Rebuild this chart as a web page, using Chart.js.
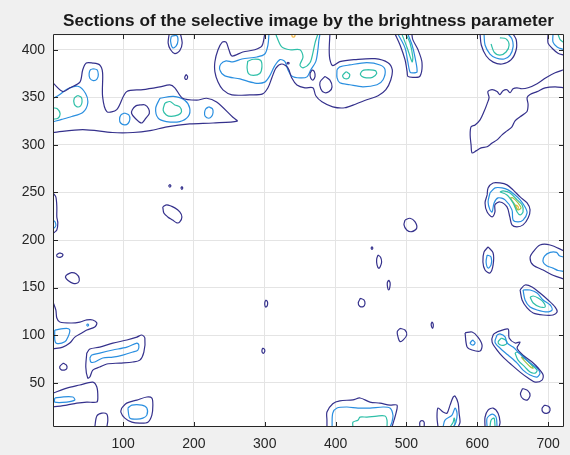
<!DOCTYPE html>
<html>
<head>
<meta charset="utf-8">
<script src="https://cdn.jsdelivr.net/npm/chart.js@4/dist/chart.umd.min.js"></script>
<style>
  html, body { margin: 0; padding: 0; background: #f0f0f0; }
  canvas { display: block; }
</style>
</head>
<body>
<canvas id="chart" width="570" height="455"></canvas>
<script>
// Axis ticks and limits
const xTicks = [100, 200, 300, 400, 500, 600, 700];
const yTicks = [50, 100, 150, 200, 250, 300, 350, 400];
const xLimits = [1, 722.5];
const yLimits = [3.5, 416.5];

// Contour line colours, lowest level first
const levelColors = ['#35318c', '#2a8fe0', '#2ebfa8', '#9ec54a', '#f4b43a'];

// Level 1 contour paths, [x, y] pairs
const level1 = [
  [[1,365],[15,356],[25,360],[39,366],[43,379],[48,386],[57,386],[67,384],[71,376],[71,351],[77,335],[91,337],[105,356],[128,358],[152,361],[166,363],[173,360],[184,349],[204,347],[218,349],[232,345],[255,329],[261,325],[227,323],[194,322],[162,319],[138,315],[114,313],[85,313],[43,316],[1,313]],
  [[124,342],[118,341],[113,337],[112,333],[117,328],[126,323],[132,328],[137,333],[136,338],[131,342],[124,342]],
  [[189,374],[191,372],[190,369],[188,369],[187,371],[189,374]],
  [[165,416.5],[163.6,407],[167,400],[173,396],[180,399],[183.4,407],[181,416.5]],
  [[300,416.5],[296,404],[286,400],[269,397.6],[253.6,393.4],[249.4,400],[245.4,408],[240,408],[234,400],[229.6,387.4],[229.6,376.8],[234,366],[241,357.8],[253.6,352.6],[279,352.6],[297,353.6],[304.5,360],[310,370.5],[316,381],[324,385],[332.7,381],[338,370.5],[345.4,363],[356.7,360],[368,360],[372,351.6],[380.7,345.3],[396,340],[413,339],[428.8,343],[444,347.4],[460,351.6],[471,358],[478,368.5],[480,379],[474,386.4],[455.6,390.6],[427,389.6],[406,387.5],[396,383.3],[392,389.6],[391,400],[392,416.5]],
  [[367,379],[370,377],[371,372],[368,368],[365,370],[364,375],[367,379]],
  [[385,372],[392,368],[395,361],[391,356],[384,355],[379,359],[378,366],[385,372]],
  [[333,387],[334.5,386],[333,385],[331.5,386],[333,387]],
  [[484,416.5],[491,405],[498,389.6],[501,377],[502,372],[509,371],[519,372],[522,386.3],[516.4,400],[509,410.6],[507.7,416.5]],
  [[604,416.5],[605.7,405],[612.7,393.4],[622.6,387],[635,385],[648,389.6],[655,400],[655,410.6],[650.6,416.5]],
  [[700,416.5],[700,407],[705.7,401.6],[714,396.4],[722.5,394.3]],
  [[722.5,379],[710,375.8],[697,370.6],[684.5,364.3],[671.8,360],[663,359],[656,360],[650.6,359],[646.4,354.8],[642,358],[636.5,357],[632,352.9],[628,356],[621,358],[615,356],[616.7,349.7],[614,343.4],[609.6,335],[604,326.3],[597,321],[591.3,319],[590,310.5],[591.3,300],[592.7,291.6],[598.3,293.7],[605.4,296.9],[614,298],[621,302],[628,305.3],[635,310.5],[642,314.7],[649,319],[653.4,325.3],[660.5,329.6],[670,334.8],[671.8,342.2],[670.4,349.7],[674.5,352.9],[684.5,356],[695.8,360],[710,361],[722.5,360]],
  [[614,247.4],[611,239],[614,229.5],[621,224.3],[625,229.5],[625,237],[632,240],[642,234.8],[646,224.3],[649,215.9],[656,213.8],[664.7,215.9],[671.8,223.2],[674.6,231.7],[670.4,239],[660.5,245.3],[650.6,252.7],[642,258],[632,260],[622.4,260],[615.3,254.8],[614,247.4]],
  [[615.3,192.7],[609.6,187.5],[608,177],[611,168.5],[618,165.4],[622.4,173.8],[622.4,186.4],[615.3,192.7]],
  [[722.5,188.6],[702.8,194.8],[688.6,194.8],[678.8,187.5],[674.6,181.2],[678.8,173.8],[693,168.5],[707,163],[722.5,159]],
  [[660.5,147.5],[663.3,137],[670.4,128.6],[679,123.3],[693,121.2],[707,121.2],[712.8,124.4],[710,129.6],[700,137],[688.6,144.3],[677.4,150.6],[667.5,152.7],[660.5,147.5]],
  [[628,103.4],[643.5,106.5],[645,97],[653.4,91.8],[660.5,92.8],[656.3,86.5],[664.7,79.1],[677.4,71.8],[686,65.5],[693,58.1],[691.5,52.8],[681.7,50.7],[671.8,54.9],[660.5,61.2],[649,68.5],[636.5,77],[628,84.4],[621,92.8],[622.4,100.2],[628,103.4]],
  [[582.8,102.4],[585.6,87.7],[592.7,84.4],[604,83.3],[606.8,89.6],[601,98],[592.7,103.3],[582.8,102.4]],
  [[664,44],[671,42],[674.6,37],[671,32],[665,33],[661,38],[664,44]],
  [[695,26.5],[701,25],[702.8,21],[699,18],[693,19],[691.5,23],[695,26.5]],
  [[387.8,3.5],[387.8,10.7],[387.8,19.2],[396,28],[406,31],[424.5,32],[434.5,34],[448.6,29.7],[462.7,28.6],[476.8,26.5],[486.7,26.5],[485.3,18],[482.5,10.7],[479.6,3.5]],
  [[519,3.5],[519,8.6],[522,10.2],[525,8.6],[525,3.5]],
  [[544.6,3.5],[543.2,13.9],[544.6,23.4],[551.7,19.2],[557.3,18],[561.6,26.5],[566,34.9],[568.7,36],[573,28.6],[574.4,18],[575.7,8.6],[573,3.5]],
  [[611,3.5],[611,13.9],[615.3,21.3],[622.4,23.4],[629.4,18],[632.2,8.6],[630.8,3.5]],
  [[60,3.5],[62.9,15],[70,18],[77,17],[78.4,10.7],[77,3.5]],
  [[98,23.4],[105,28.6],[119.4,31.8],[133.5,35],[140.6,33.9],[142,26.5],[140.6,16],[135,8.6],[123.6,7.6],[112.3,8.6],[102.4,12.8],[96.8,19.2],[98,23.4]],
  [[1,39],[20.5,44.4],[38.9,47.6],[57.2,50.7],[62.9,45.5],[64.3,35],[62.9,29.7],[48.7,29.7],[34.6,28.6],[20.5,26.5],[1,24.5]],
  [[15.5,70.7],[20,68.5],[20.5,65],[17,63.3],[12,64],[10.6,67],[15.5,70.7]],
  [[48.7,81.2],[53,85.4],[67,87.5],[85.5,91.7],[105.3,94.9],[119.4,98],[126.4,100.2],[130.7,97],[129.3,82.3],[123.6,73.8],[113.7,71.8],[95.4,70.7],[77,69.7],[67,66.5],[57.2,63.3],[53,56],[50,54.9],[47.3,66.5],[48.7,81.2]],
  [[1,134.9],[5,126.5],[6.4,118],[10.6,113.8],[27.5,112.8],[38.9,113.8],[48.7,116],[57.2,116],[62.9,112.8],[60,108.6],[48.7,105.4],[41.7,102.3],[31.8,98],[24.7,91.7],[14.8,87.5],[1,85.5]],
  [[1,249.5],[5,245.3],[6.4,234.8],[6.4,224.3],[7.8,218],[6.4,210.6],[2,207.5],[1,207]],
  [[156,234.8],[161.8,237],[173,233.8],[180,229.5],[183,224.3],[180,219],[176,218],[170,221],[163,224.3],[157.5,228.5],[156,234.8]],
  [[166,258.5],[167.5,257],[166,255.5],[164.5,257],[166,258.5]],
  [[183,256.3],[184.2,254.8],[183,253.3],[181.8,254.8],[183,256.3]],
  [[10,186.5],[14,185.5],[15,184],[12,182],[7,182.5],[6.4,184.5],[10,186.5]],
  [[20,163.3],[27,165.7],[34,164.3],[38,159.8],[36.5,155.2],[29.4,154.5],[22.3,157.4],[18.6,160.9],[20,163.3]],
  [[302,137],[304,134.5],[303.5,131],[301.5,129.5],[300,132],[300.5,135.5],[302,137]],
  [[298,86.5],[300,84.5],[299.5,82],[297.5,81],[296,83],[296.5,85.5],[298,86.5]],
  [[498,221],[505,222.9],[512,219.3],[514.5,212.4],[507.5,208.8],[500.4,210.6],[496.6,216],[498,221]],
  [[451.4,193],[452.6,191.6],[451.4,190.2],[450.2,191.6],[451.4,193]],
  [[460,184.3],[463.5,182],[465,177],[463,172],[461,170.3],[458.5,174],[458,180],[460,184.3]],
  [[475,158],[477,155],[476.5,150],[475,147.5],[473.5,150],[473,155],[475,158]],
  [[435,138.8],[440,137],[441.5,133],[439,130],[434,130.5],[432,134],[435,138.8]],
  [[491,107.2],[498,105.4],[500.4,100.2],[495.6,95],[491,93.2],[488.6,96.8],[487,103.6],[491,107.2]],
  [[536.5,114],[538,111],[537,107.3],[535.5,109],[535,112],[536.5,114]]
];

// Level 2 contour paths
const level2 = [
  [[1,348.6],[10.6,353],[20.5,358.4],[36,361.6],[47,354],[50,343.5],[43,334],[27.5,329.8],[13.4,326.8],[1,324.4]],
  [[58,380],[63,379],[65,374],[63,369],[58,367.5],[53,370],[52,375],[54,379],[58,380]],
  [[102,333.5],[108,331.5],[109.5,327],[107,322.5],[102,321],[96.5,323],[95,327],[97,331.5],[102,333.5]],
  [[152,349],[171,351],[187,347],[194,338.6],[192,330],[180,324.5],[161,324.5],[149.5,328],[146,338.6],[152,349]],
  [[221,340],[226,338],[227,334],[225,330],[221,328],[216,330],[215,334],[217,338],[221,340]],
  [[168,414],[167,409],[170,402],[175,404],[177.5,410],[175.5,415],[168,414]],
  [[305.9,416.5],[304.5,405],[300,395.5],[289,392.4],[267.7,390.3],[255,387.2],[245.4,388.3],[238,385],[236.6,378.8],[243.7,372.5],[265,369.3],[286,365],[300,366],[307,372.5],[314,383],[321.5,389.6],[328.5,387.5],[332.7,379],[338,372.5],[349.7,370.4],[359.6,371.5],[365,379],[372,387.5],[375,400],[376.5,410.5],[378,416.5]],
  [[402,379],[406,382],[420,384],[444,386.4],[462.7,384],[469.8,379],[467,368.4],[458.5,363.2],[438.7,361],[420,363.2],[406,365.3],[402,370.6],[402,379]],
  [[488,416.5],[498,402],[502,387.2],[505,376.7],[509,375.7],[515,376.7],[512,392.4],[508,405],[502,416.5]],
  [[609.6,416.5],[611,405],[618,395.5],[626.6,391.3],[638,390.3],[646.4,394.4],[650.6,403],[649,411.4],[643.5,416.5]],
  [[707,416.5],[707,408],[712.8,403],[722.5,400]],
  [[618,249.5],[615.3,240],[618,231.7],[621,229.5],[623.8,239],[629.4,244.3],[639.3,242.2],[649,231.7],[650.6,221],[657.6,219],[664.7,221],[670.4,228.5],[667.5,234.8],[660.5,242.2],[653.4,247.4],[643.5,252.7],[635,254.8],[625.2,254.8],[618,249.5]],
  [[614,184.3],[612.5,177],[615.3,170.6],[619.5,173.8],[619.5,182.2],[614,184.3]],
  [[722.5,182],[716,183.5],[712,187],[703,187],[695,183],[693,177],[698,173],[707,170.5],[714,168],[722.5,167]],
  [[664.7,147.5],[667.5,137],[674.6,129.6],[684.5,126.5],[698.6,124.4],[705.7,126.5],[703,131.7],[693,137],[684.5,144.3],[674.6,147.5],[664.7,147.5]],
  [[628,100.2],[625,92.8],[632,86.5],[643.5,79.1],[656.3,70.7],[664.7,63.3],[674.6,58.1],[684.5,56],[688.6,60.2],[684.5,65.5],[674.6,70.7],[664.7,77],[657.6,82.3],[650.6,87.5],[642,91.8],[639.3,98.1],[632,101.3],[628,100.2]],
  [[593.5,95],[597,92],[594,89.5],[590,91.5],[593.5,95]],
  [[395,3.5],[396,18],[402,23.4],[416,24.5],[431.6,23.4],[448.6,23.4],[467,24.5],[476.8,23.4],[481,16],[479.6,8.6],[476.8,3.5]],
  [[551.7,3.5],[554.5,10.7],[564.4,16],[568.7,23.4],[571.5,18],[570,8.6],[566,3.5]],
  [[613.9,3.5],[613.9,12.8],[621,17],[626.6,13.9],[628,3.5]],
  [[106.7,23.4],[112.3,26.5],[126.4,26.5],[133.5,23.4],[133.5,16],[127.9,12.8],[119.4,11.8],[109.5,12.8],[106.7,23.4]],
  [[3.5,33.9],[13.4,35],[29,35],[31.8,31.8],[20.5,29.7],[3.5,29.7],[3.5,33.9]],
  [[53,76],[55.8,79.1],[67,81.2],[85.5,84.4],[105.3,87.5],[119.4,91.7],[122.2,89.6],[120.8,84.4],[113.7,82.3],[99.6,79.1],[85.5,77],[71.3,76],[60,71.8],[54.4,71.8],[53,76]],
  [[3.5,105.4],[20,107.2],[24.7,105.4],[22.3,98.4],[17.7,93.1],[6,91.4],[3.5,95],[3.5,105.4]],
  [[50,112],[51.3,110.7],[50,109.4],[48.7,110.7],[50,112]],
  [[1,221],[4,219],[5,215],[3,213],[1,212.5]]
];

// Level 3 contour paths
const level3 = [
  [[36,352],[41,350],[42,345],[40,341],[35,340],[31,343],[31,349],[36,352]],
  [[1,339],[7,338],[11,333],[8,328],[1,327]],
  [[159,344],[166,345.6],[173,342],[180,340],[182.5,335],[178,331.5],[168,330],[161,331.5],[156.5,336.6],[159,344]],
  [[276,388],[284,390],[294,389],[296,382],[293,375],[284,373],[277,375],[275,381],[276,388]],
  [[315.7,416.5],[317,413.4],[324,403],[335.5,400],[349.7,400],[354,392.4],[349.7,384],[354,381],[363.8,386.3],[368,396.8],[371,407.3],[373.7,413.6],[375,416.5]],
  [[415,377],[420,374],[418,370],[412,370],[410,373],[415,377]],
  [[445,379],[456,378],[458,375],[452,371],[440,371],[435,374],[438,378],[445,379]],
  [[493,416.5],[494,415.6],[502,400],[508,387.2],[509,392.4],[505,407.3],[499.5,415.6],[498,416.5]],
  [[619.5,406],[623.8,397.6],[632,394.4],[640.7,397.6],[645,405],[640.7,411.4],[632,412.5]],
  [[714,416.5],[717,410.6],[722.5,407.3]],
  [[632,250.6],[642,247.4],[650.6,239],[656.3,229.5],[660.5,226.4],[664.7,229.5],[663.3,237],[656.3,242.2],[646.4,249.5],[636.5,251.6],[632,250.6]],
  [[674.6,140],[679,133.8],[688.6,129.6],[695.8,129.6],[693,134.9],[686,139],[679,141.2],[674.6,140]],
  [[634,97],[640,95],[642,92],[638,89.5],[632,90],[629.5,93],[634,97]],
  [[653.4,81.2],[657.6,73.8],[667.5,66.5],[674.6,61.2],[681.7,60.2],[684.5,63.3],[677.4,68.5],[670.4,73.8],[663.3,79.1],[656.3,82.3],[653.4,81.2]],
  [[424.5,3.5],[424.5,8.6],[431.6,10.7],[434.5,13.9],[444.3,13.9],[458.5,15],[469.8,15],[472.6,10.7],[472.6,3.5]],
  [[561.6,3.5],[566,8.6],[567.3,12.8],[568.7,7.6],[567.3,3.5]],
  [[618,3.5],[619.5,10.7],[623.8,12.8],[625.2,3.5]]
];

// Level 4 contour paths
const level4 = [
  [[646.4,244.3],[653.4,237],[657.6,231.7],[661.9,233.8],[657.6,239],[650.6,244.3],[646.4,244.3]],
  [[662,77],[668,72],[676,66],[679,65.5],[675,70],[668,75],[662,77]]
];

// Level 5 contour paths
const level5 = [
  [[655,237],[658,234.5],[657,232],[654,234],[655,237]],
  [[338,416.5],[339,413.5],[342,413.5],[343,416.5]]
];

const levels = [level1, level2, level3, level4, level5];

const datasets = [];
levels.forEach((paths, li) => {
  paths.forEach(path => {
    datasets.push({
      data: path.map(([x, y]) => ({ x, y })),
      showLine: true,
      fill: false,
      pointRadius: 0,
      pointHoverRadius: 0,
      borderWidth: 1.2,
      borderColor: levelColors[li],
      tension: 0.3
    });
  });
});

const FONT = '"Liberation Sans", Arial, Helvetica, sans-serif';
const AXIS_COLOR = '#262626';

// White plot area, box frame and inward tick marks on all four sides
const axesBox = {
  id: 'axesBox',
  beforeDraw(chart) {
    const { ctx, chartArea: a } = chart;
    ctx.save();
    ctx.fillStyle = '#f0f0f0';
    ctx.fillRect(0, 0, chart.width, chart.height);
    ctx.fillStyle = '#ffffff';
    ctx.fillRect(a.left, a.top, a.right - a.left, a.bottom - a.top);
    ctx.restore();
  },
  afterDatasetsDraw(chart) {
    const { ctx, chartArea: a, scales: { x, y } } = chart;
    const len = 5;
    ctx.save();
    ctx.strokeStyle = AXIS_COLOR;
    ctx.lineWidth = 1;
    ctx.beginPath();
    ctx.rect(a.left + 0.5, a.top + 0.5, a.right - a.left - 1, a.bottom - a.top - 1);
    xTicks.forEach(v => {
      const px = Math.round(x.getPixelForValue(v)) + 0.5;
      ctx.moveTo(px, a.bottom); ctx.lineTo(px, a.bottom - len);
      ctx.moveTo(px, a.top); ctx.lineTo(px, a.top + len);
    });
    yTicks.forEach(v => {
      const py = Math.round(y.getPixelForValue(v)) + 0.5;
      ctx.moveTo(a.left, py); ctx.lineTo(a.left + len, py);
      ctx.moveTo(a.right, py); ctx.lineTo(a.right - len, py);
    });
    ctx.stroke();
    ctx.restore();
  }
};

new Chart(document.getElementById('chart'), {
  type: 'scatter',
  data: { datasets },
  plugins: [axesBox],
  options: {
    responsive: false,
    animation: false,
    devicePixelRatio: 1,
    events: [],
    layout: { padding: { left: 0, right: 6, top: 0, bottom: 0 } },
    plugins: {
      legend: { display: false },
      tooltip: { enabled: false },
      title: {
        display: true,
        fullSize: false,
        text: 'Sections of the selective image by the brightness parameter',
        color: '#1a1a1a',
        font: { family: FONT, size: 17.2, weight: 'bold', lineHeight: 1.2 },
        padding: { top: 11, bottom: 2.4 }
      }
    },
    scales: {
      x: {
        type: 'linear',
        min: xLimits[0],
        max: xLimits[1],
        afterBuildTicks: s => { s.ticks = xTicks.map(v => ({ value: v })); },
        afterFit: s => { s.height = 28; },
        grid: { color: '#e4e4e4', lineWidth: 1, drawTicks: false },
        border: { display: false },
        ticks: { color: AXIS_COLOR, padding: 9, maxRotation: 0, font: { family: FONT, size: 14 } }
      },
      y: {
        type: 'linear',
        min: yLimits[0],
        max: yLimits[1],
        afterBuildTicks: s => { s.ticks = yTicks.map(v => ({ value: v })); },
        afterFit: s => { s.width = 53; },
        grid: { color: '#e4e4e4', lineWidth: 1, drawTicks: false },
        border: { display: false },
        ticks: { color: AXIS_COLOR, padding: 8, font: { family: FONT, size: 14 } }
      }
    }
  }
});
</script>
</body>
</html>
